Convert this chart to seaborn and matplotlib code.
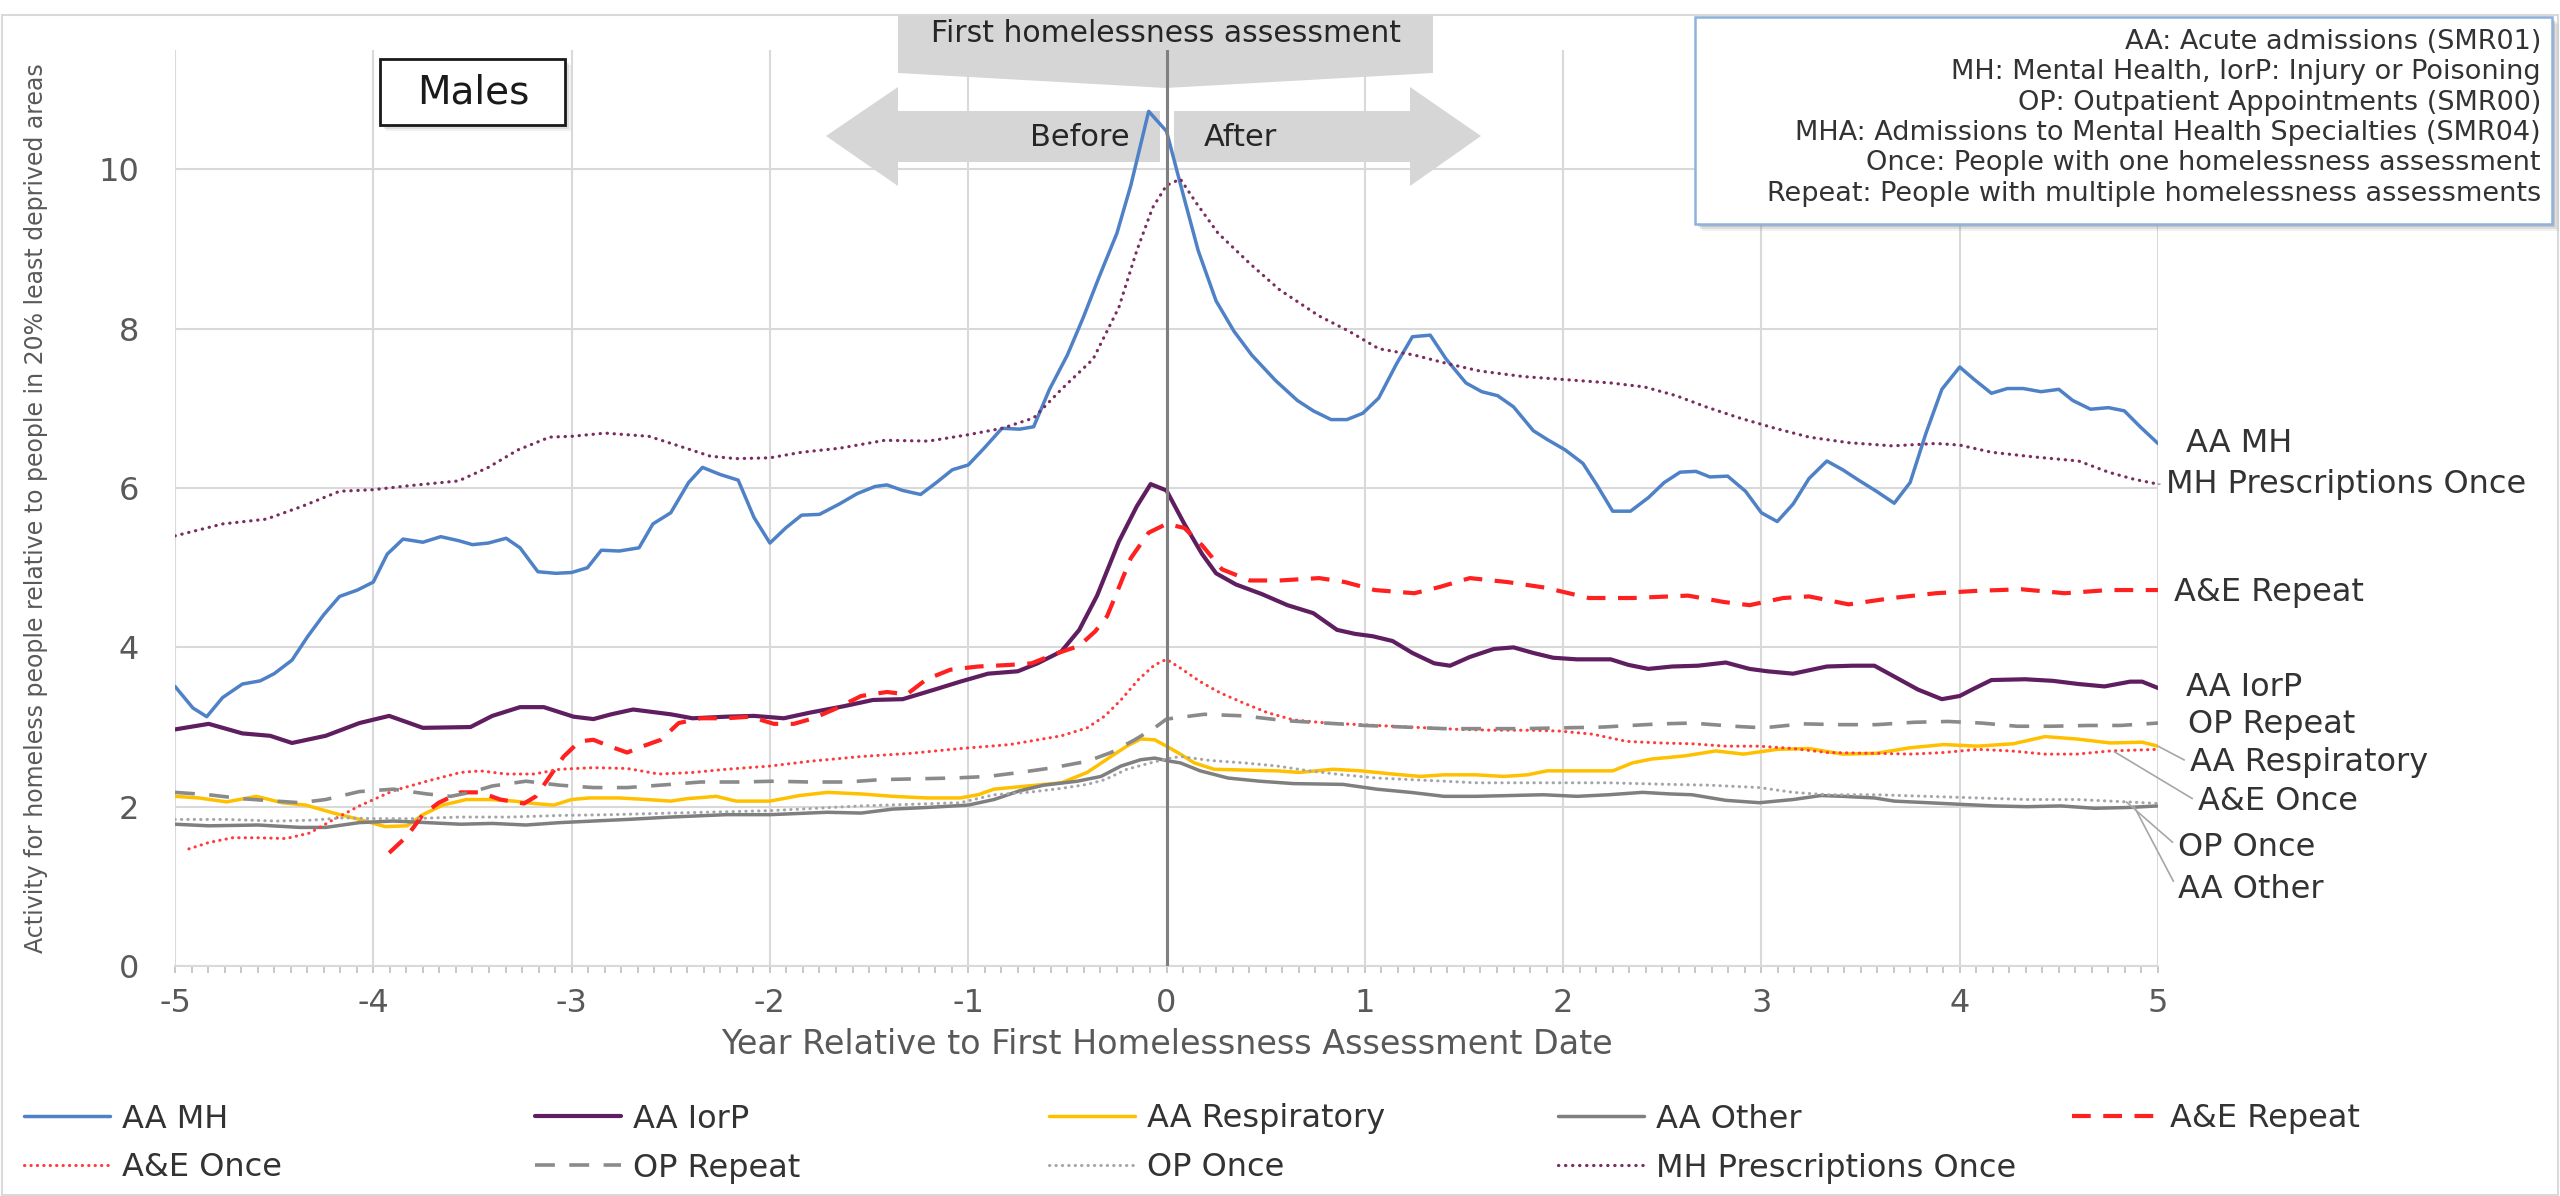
import matplotlib
matplotlib.use("Agg")
import matplotlib.pyplot as plt
from matplotlib.patches import Polygon, Rectangle
from matplotlib.ticker import MultipleLocator
import pandas as pd
import seaborn as sns

# Activity for homeless males relative to people in the 20% least deprived
# areas, by year relative to the first homelessness assessment.
# Each series is a list of (year, ratio) points.

aa_mh = [(-5.00, 3.51), (-4.91, 3.24), (-4.84, 3.13), (-4.76, 3.37), (-4.66, 3.54), (-4.57, 3.58),
         (-4.50, 3.67), (-4.41, 3.84), (-4.33, 4.14), (-4.25, 4.41), (-4.17, 4.64), (-4.08, 4.72),
         (-4.00, 4.82), (-3.93, 5.17), (-3.85, 5.36), (-3.75, 5.32), (-3.66, 5.39), (-3.57, 5.34),
         (-3.50, 5.29), (-3.42, 5.31), (-3.33, 5.37), (-3.26, 5.25), (-3.17, 4.95), (-3.08, 4.93),
         (-3.00, 4.94), (-2.92, 5.00), (-2.85, 5.22), (-2.76, 5.21), (-2.66, 5.25), (-2.59, 5.55),
         (-2.50, 5.69), (-2.41, 6.07), (-2.34, 6.26), (-2.25, 6.17), (-2.16, 6.10), (-2.08, 5.63),
         (-2.00, 5.31), (-1.92, 5.50), (-1.84, 5.66), (-1.75, 5.67), (-1.65, 5.80), (-1.56, 5.93),
         (-1.47, 6.02), (-1.41, 6.04), (-1.33, 5.97), (-1.24, 5.92), (-1.16, 6.07), (-1.08, 6.23),
         (-1.00, 6.29), (-0.92, 6.50), (-0.83, 6.75), (-0.74, 6.74), (-0.67, 6.77), (-0.59, 7.24),
         (-0.50, 7.67), (-0.42, 8.14), (-0.34, 8.65), (-0.25, 9.20), (-0.18, 9.80), (-0.09, 10.73),
         (0.00, 10.48), (0.09, 9.63), (0.16, 8.98), (0.25, 8.35), (0.34, 7.97), (0.43, 7.67),
         (0.55, 7.35), (0.66, 7.10), (0.74, 6.97), (0.83, 6.86), (0.91, 6.86), (0.99, 6.94),
         (1.07, 7.13), (1.16, 7.56), (1.24, 7.90), (1.33, 7.92), (1.41, 7.62), (1.51, 7.32),
         (1.59, 7.21), (1.67, 7.16), (1.75, 7.02), (1.85, 6.72), (1.92, 6.61), (2.01, 6.48),
         (2.10, 6.31), (2.17, 6.04), (2.25, 5.71), (2.34, 5.71), (2.43, 5.88), (2.51, 6.07),
         (2.59, 6.20), (2.67, 6.21), (2.74, 6.14), (2.83, 6.15), (2.92, 5.96), (3.00, 5.69),
         (3.08, 5.58), (3.16, 5.80), (3.24, 6.12), (3.33, 6.34), (3.41, 6.23), (3.49, 6.10),
         (3.58, 5.96), (3.67, 5.81), (3.75, 6.07), (3.83, 6.69), (3.91, 7.24), (4.00, 7.52),
         (4.07, 7.37), (4.16, 7.19), (4.24, 7.25), (4.32, 7.25), (4.41, 7.21), (4.50, 7.24),
         (4.57, 7.10), (4.66, 6.99), (4.75, 7.01), (4.83, 6.97), (4.91, 6.77), (5.00, 6.56)]

aa_iorp = [(-5.00, 2.97), (-4.83, 3.04), (-4.66, 2.92), (-4.52, 2.89), (-4.41, 2.80), (-4.24, 2.89),
           (-4.07, 3.05), (-3.92, 3.14), (-3.75, 2.99), (-3.51, 3.00), (-3.40, 3.14), (-3.26, 3.25),
           (-3.14, 3.25), (-2.99, 3.13), (-2.89, 3.10), (-2.80, 3.16), (-2.69, 3.22), (-2.50, 3.16),
           (-2.39, 3.11), (-2.22, 3.13), (-2.08, 3.14), (-1.93, 3.11), (-1.80, 3.18), (-1.63, 3.26),
           (-1.48, 3.34), (-1.33, 3.35), (-1.17, 3.47), (-1.04, 3.57), (-0.90, 3.67), (-0.75, 3.70),
           (-0.65, 3.80), (-0.53, 3.95), (-0.44, 4.22), (-0.35, 4.65), (-0.24, 5.33), (-0.15, 5.77),
           (-0.08, 6.05), (0.00, 5.97), (0.09, 5.55), (0.18, 5.17), (0.25, 4.93), (0.35, 4.79),
           (0.48, 4.67), (0.61, 4.53), (0.74, 4.43), (0.86, 4.22), (0.95, 4.17), (1.04, 4.14),
           (1.14, 4.08), (1.24, 3.93), (1.35, 3.80), (1.43, 3.77), (1.53, 3.88), (1.65, 3.98),
           (1.75, 4.00), (1.85, 3.93), (1.95, 3.87), (2.07, 3.85), (2.24, 3.85), (2.33, 3.78),
           (2.43, 3.73), (2.55, 3.76), (2.68, 3.77), (2.82, 3.81), (2.94, 3.73), (3.03, 3.70),
           (3.16, 3.67), (3.33, 3.76), (3.46, 3.77), (3.57, 3.77), (3.68, 3.62), (3.79, 3.47),
           (3.91, 3.35), (4.00, 3.39), (4.07, 3.48), (4.16, 3.59), (4.33, 3.60), (4.47, 3.58),
           (4.60, 3.54), (4.73, 3.51), (4.86, 3.57), (4.92, 3.57), (5.00, 3.49)]

aa_respiratory = [(-5.00, 2.13), (-4.88, 2.11), (-4.74, 2.06), (-4.59, 2.13), (-4.46, 2.05), (-4.34, 2.02),
                  (-4.20, 1.92), (-4.07, 1.84), (-3.94, 1.75), (-3.83, 1.76), (-3.75, 1.90), (-3.65, 2.02),
                  (-3.53, 2.09), (-3.41, 2.09), (-3.29, 2.07), (-3.19, 2.04), (-3.09, 2.02), (-3.00, 2.09),
                  (-2.91, 2.11), (-2.76, 2.11), (-2.62, 2.09), (-2.50, 2.07), (-2.42, 2.10), (-2.27, 2.13),
                  (-2.17, 2.07), (-2.00, 2.07), (-1.85, 2.14), (-1.71, 2.18), (-1.54, 2.16), (-1.38, 2.13),
                  (-1.21, 2.11), (-1.04, 2.11), (-0.95, 2.15), (-0.87, 2.22), (-0.70, 2.26), (-0.53, 2.30),
                  (-0.40, 2.43), (-0.28, 2.63), (-0.20, 2.76), (-0.13, 2.85), (-0.06, 2.84), (0.00, 2.76),
                  (0.07, 2.66), (0.14, 2.55), (0.24, 2.47), (0.39, 2.46), (0.56, 2.45), (0.67, 2.43),
                  (0.84, 2.47), (0.98, 2.45), (1.14, 2.41), (1.28, 2.38), (1.40, 2.40), (1.56, 2.40),
                  (1.70, 2.38), (1.82, 2.40), (1.92, 2.45), (2.07, 2.45), (2.25, 2.45), (2.35, 2.55),
                  (2.45, 2.60), (2.54, 2.62), (2.62, 2.64), (2.77, 2.70), (2.91, 2.66), (3.08, 2.72),
                  (3.24, 2.73), (3.41, 2.66), (3.58, 2.67), (3.75, 2.74), (3.92, 2.78), (4.09, 2.76),
                  (4.27, 2.79), (4.43, 2.88), (4.59, 2.85), (4.76, 2.80), (4.92, 2.81), (5.00, 2.76)]

aa_other = [(-5.00, 1.78), (-4.83, 1.76), (-4.58, 1.77), (-4.37, 1.74), (-4.24, 1.74), (-4.07, 1.80),
            (-3.90, 1.82), (-3.73, 1.80), (-3.56, 1.78), (-3.40, 1.79), (-3.23, 1.77), (-3.06, 1.80),
            (-2.89, 1.82), (-2.72, 1.84), (-2.50, 1.87), (-2.22, 1.90), (-2.00, 1.90), (-1.71, 1.93),
            (-1.54, 1.92), (-1.38, 1.97), (-1.21, 1.99), (-1.00, 2.02), (-0.87, 2.09), (-0.74, 2.20),
            (-0.62, 2.27), (-0.45, 2.32), (-0.33, 2.38), (-0.23, 2.51), (-0.13, 2.59), (-0.06, 2.61),
            (0.02, 2.57), (0.07, 2.55), (0.17, 2.45), (0.31, 2.36), (0.47, 2.32), (0.64, 2.29),
            (0.89, 2.28), (1.06, 2.22), (1.23, 2.18), (1.40, 2.13), (1.56, 2.13), (1.73, 2.14),
            (1.90, 2.15), (2.07, 2.13), (2.23, 2.15), (2.40, 2.18), (2.54, 2.16), (2.65, 2.15),
            (2.82, 2.08), (2.99, 2.05), (3.16, 2.09), (3.30, 2.14), (3.41, 2.13), (3.57, 2.11),
            (3.67, 2.07), (3.84, 2.05), (4.00, 2.03), (4.17, 2.01), (4.34, 2.00), (4.51, 2.01),
            (4.68, 1.98), (4.85, 1.99), (5.00, 2.01)]

ae_repeat = [(-3.92, 1.42), (-3.83, 1.63), (-3.75, 1.90), (-3.67, 2.05), (-3.56, 2.18), (-3.46, 2.18),
             (-3.36, 2.09), (-3.24, 2.04), (-3.18, 2.13), (-3.11, 2.38), (-3.04, 2.63), (-2.96, 2.82),
             (-2.89, 2.84), (-2.81, 2.76), (-2.72, 2.68), (-2.64, 2.76), (-2.55, 2.84), (-2.46, 3.05),
             (-2.35, 3.11), (-2.22, 3.11), (-2.10, 3.13), (-1.98, 3.04), (-1.88, 3.04), (-1.78, 3.11),
             (-1.66, 3.24), (-1.54, 3.39), (-1.41, 3.44), (-1.31, 3.41), (-1.21, 3.60), (-1.09, 3.72),
             (-0.95, 3.76), (-0.79, 3.78), (-0.68, 3.80), (-0.57, 3.91), (-0.44, 4.02), (-0.36, 4.20),
             (-0.30, 4.39), (-0.26, 4.63), (-0.18, 5.12), (-0.09, 5.44), (0.00, 5.55), (0.09, 5.50),
             (0.18, 5.28), (0.28, 4.98), (0.42, 4.84), (0.57, 4.84), (0.77, 4.87), (0.90, 4.82),
             (1.05, 4.72), (1.25, 4.68), (1.38, 4.76), (1.53, 4.87), (1.72, 4.82), (1.91, 4.75),
             (2.13, 4.62), (2.35, 4.62), (2.63, 4.65), (2.81, 4.57), (2.94, 4.53), (3.11, 4.62),
             (3.24, 4.64), (3.44, 4.54), (3.66, 4.62), (3.88, 4.68), (4.09, 4.71), (4.31, 4.73),
             (4.53, 4.68), (4.75, 4.72), (5.00, 4.72)]

ae_once = [(-4.93, 1.47), (-4.83, 1.55), (-4.71, 1.61), (-4.58, 1.61), (-4.44, 1.60), (-4.32, 1.67),
           (-4.20, 1.84), (-4.07, 2.01), (-3.90, 2.20), (-3.73, 2.32), (-3.56, 2.43), (-3.46, 2.45),
           (-3.33, 2.41), (-3.19, 2.41), (-3.06, 2.47), (-2.89, 2.49), (-2.72, 2.48), (-2.56, 2.41),
           (-2.39, 2.43), (-2.22, 2.47), (-2.00, 2.51), (-1.80, 2.57), (-1.54, 2.63), (-1.29, 2.67),
           (-1.04, 2.73), (-0.79, 2.78), (-0.53, 2.89), (-0.40, 2.99), (-0.31, 3.14), (-0.23, 3.34),
           (-0.14, 3.60), (-0.06, 3.78), (0.00, 3.85), (0.07, 3.74), (0.17, 3.57), (0.27, 3.43),
           (0.39, 3.30), (0.51, 3.18), (0.64, 3.09), (0.81, 3.05), (0.98, 3.03), (1.14, 3.01),
           (1.31, 2.99), (1.48, 2.97), (1.65, 2.96), (1.82, 2.96), (1.98, 2.95), (2.15, 2.91),
           (2.32, 2.82), (2.49, 2.80), (2.65, 2.79), (2.82, 2.76), (2.99, 2.76), (3.16, 2.73),
           (3.33, 2.68), (3.58, 2.67), (3.75, 2.66), (3.92, 2.68), (4.09, 2.72), (4.26, 2.70),
           (4.43, 2.66), (4.59, 2.66), (4.76, 2.70), (5.00, 2.72)]

op_repeat = [(-5.00, 2.18), (-4.83, 2.15), (-4.66, 2.10), (-4.49, 2.07), (-4.37, 2.05), (-4.24, 2.09),
             (-4.07, 2.19), (-3.90, 2.22), (-3.73, 2.16), (-3.61, 2.13), (-3.51, 2.18), (-3.40, 2.26),
             (-3.23, 2.32), (-3.06, 2.27), (-2.89, 2.24), (-2.72, 2.24), (-2.50, 2.28), (-2.35, 2.31),
             (-2.15, 2.31), (-1.98, 2.32), (-1.80, 2.31), (-1.61, 2.31), (-1.44, 2.34), (-1.26, 2.35),
             (-1.07, 2.36), (-0.90, 2.38), (-0.74, 2.43), (-0.57, 2.49), (-0.40, 2.57), (-0.28, 2.68),
             (-0.16, 2.84), (-0.06, 2.99), (0.00, 3.10), (0.19, 3.16), (0.39, 3.14), (0.60, 3.08),
             (0.80, 3.05), (1.00, 3.02), (1.20, 3.00), (1.40, 2.98), (1.80, 2.98), (2.20, 3.00),
             (2.49, 3.04), (2.65, 3.05), (2.86, 3.01), (3.01, 2.99), (3.21, 3.04), (3.40, 3.03),
             (3.58, 3.03), (3.77, 3.06), (3.94, 3.07), (4.11, 3.05), (4.29, 3.01), (4.46, 3.01),
             (4.65, 3.02), (4.81, 3.02), (5.00, 3.05)]

op_once = [(-5.00, 1.84), (-4.74, 1.84), (-4.49, 1.82), (-4.32, 1.83), (-4.15, 1.86), (-3.99, 1.85),
           (-3.81, 1.85), (-3.56, 1.87), (-3.31, 1.87), (-3.06, 1.89), (-2.80, 1.90), (-2.50, 1.92),
           (-2.00, 1.95), (-1.54, 2.01), (-1.04, 2.05), (-0.87, 2.15), (-0.70, 2.18), (-0.53, 2.23),
           (-0.40, 2.28), (-0.31, 2.34), (-0.20, 2.47), (-0.08, 2.55), (0.00, 2.60), (0.07, 2.63),
           (0.22, 2.58), (0.39, 2.55), (0.56, 2.51), (0.72, 2.45), (0.89, 2.40), (1.06, 2.36),
           (1.23, 2.34), (1.40, 2.32), (1.56, 2.30), (1.90, 2.30), (2.23, 2.30), (2.54, 2.28),
           (2.74, 2.27), (2.99, 2.24), (3.16, 2.18), (3.33, 2.15), (3.58, 2.15), (3.84, 2.13),
           (4.09, 2.11), (4.34, 2.09), (4.59, 2.09), (4.85, 2.06), (5.00, 2.04)]

mh_prescriptions_once = [(-5.00, 5.40), (-4.76, 5.55), (-4.54, 5.61), (-4.36, 5.77), (-4.17, 5.96),
                         (-4.00, 5.98), (-3.82, 6.03), (-3.57, 6.09), (-3.42, 6.26), (-3.27, 6.48),
                         (-3.11, 6.64), (-3.00, 6.65), (-2.83, 6.69), (-2.61, 6.65), (-2.46, 6.53),
                         (-2.30, 6.40), (-2.17, 6.37), (-2.00, 6.38), (-1.84, 6.45), (-1.65, 6.50),
                         (-1.42, 6.60), (-1.20, 6.59), (-1.00, 6.67), (-0.83, 6.75), (-0.67, 6.88),
                         (-0.53, 7.24), (-0.37, 7.62), (-0.24, 8.27), (-0.15, 8.98), (-0.07, 9.52),
                         (0.00, 9.80), (0.07, 9.88), (0.15, 9.58), (0.26, 9.20), (0.42, 8.82),
                         (0.57, 8.49), (0.77, 8.16), (0.92, 7.97), (1.07, 7.75), (1.25, 7.67),
                         (1.42, 7.56), (1.58, 7.47), (1.80, 7.40), (2.02, 7.36), (2.24, 7.32),
                         (2.41, 7.27), (2.57, 7.16), (2.72, 7.02), (2.89, 6.88), (3.07, 6.75),
                         (3.24, 6.64), (3.44, 6.57), (3.66, 6.53), (3.88, 6.56), (4.00, 6.54),
                         (4.16, 6.45), (4.38, 6.39), (4.60, 6.34), (4.75, 6.20), (4.88, 6.11),
                         (5.00, 6.05)]

series_names = ["AA MH", "AA IorP", "AA Respiratory", "AA Other", "A&E Repeat",
                "A&E Once", "OP Repeat", "OP Once", "MH Prescriptions Once"]
series_points = [aa_mh, aa_iorp, aa_respiratory, aa_other, ae_repeat,
                 ae_once, op_repeat, op_once, mh_prescriptions_once]

x_ticks = [-5, -4, -3, -2, -1, 0, 1, 2, 3, 4, 5]
y_ticks = [0, 2, 4, 6, 8, 10]

key_lines = ["AA: Acute admissions (SMR01)",
             "MH: Mental Health, IorP: Injury or Poisoning",
             "OP: Outpatient Appointments (SMR00)",
             "MHA: Admissions to Mental Health Specialties (SMR04)",
             "Once: People with one homelessness assessment",
             "Repeat: People with multiple homelessness assessments"]

# ---- styles ----
styles = {
    "AA MH": dict(color="#4F81C7", linewidth=2.5, linestyle="-"),
    "AA IorP": dict(color="#5F1E5F", linewidth=3.0, linestyle="-"),
    "AA Respiratory": dict(color="#FFC000", linewidth=2.5, linestyle="-"),
    "AA Other": dict(color="#7F7F7F", linewidth=2.5, linestyle="-"),
    "A&E Repeat": dict(color="#FF2020", linewidth=3.0, linestyle=(0, (4.5, 3.0))),
    "A&E Once": dict(color="#FF3B3B", linewidth=2.2, linestyle=(0, (0.1, 2.0)),
                     dash_capstyle="round"),
    "OP Repeat": dict(color="#8A8A8A", linewidth=2.6, linestyle=(0, (5.5, 4.0))),
    "OP Once": dict(color="#A2A6AC", linewidth=2.2, linestyle=(0, (0.1, 2.0)),
                    dash_capstyle="round"),
    "MH Prescriptions Once": dict(color="#7A2D5E", linewidth=2.3, linestyle=(0, (0.1, 2.1)),
                                  dash_capstyle="round"),
}

sns.set_theme(style="white")
plt.rcParams["font.family"] = ["DejaVu Sans"]
plt.rcParams["axes.unicode_minus"] = False

W, H = 2560, 1196
TEXT = "#333333"
AXTEXT = "#595959"
GRID = "#D9D9D9"
LABEL_SIZE = 23


def fx(x):
    return x / W


def fy(y):
    return 1 - y / H


fig = plt.figure(figsize=(W / 100, H / 100), dpi=100)
fig.patch.set_facecolor("white")
ax = fig.add_axes([fx(175), fy(966), (2158 - 175) / W, (966 - 50) / H])

handles = {}
for name, pts in zip(series_names, series_points):
    df = pd.DataFrame(pts, columns=["year", "ratio"])
    sns.lineplot(data=df, x="year", y="ratio", ax=ax, estimator=None, sort=False,
                 legend=False, zorder=3, **styles[name])
    handles[name] = ax.lines[-1]

# axes, grid and ticks
ax.set_xlim(-5, 5)
ax.set_ylim(0, 11.5)
ax.set_xticks(x_ticks)
ax.set_yticks(y_ticks)
ax.xaxis.set_minor_locator(MultipleLocator(1 / 12))
ax.set_axisbelow(True)
ax.grid(True, which="major", color=GRID, linewidth=1.5)
for side in ["left", "right", "top"]:
    ax.spines[side].set_visible(False)
ax.spines["bottom"].set_color(GRID)
ax.spines["bottom"].set_linewidth(1.5)
ax.tick_params(axis="x", which="both", direction="out", length=5, width=1.2,
               color="#BFBFBF", labelsize=23, labelcolor=AXTEXT, pad=11, bottom=True)
ax.tick_params(axis="y", length=0, labelsize=23, labelcolor=AXTEXT, pad=26)

ax.set_xlabel("Year Relative to First Homelessness Assessment Date",
              fontsize=24, color=AXTEXT)
ax.xaxis.label.set_va("center")
ax.xaxis.set_label_coords(0.5, -(1045 - 966) / 916)
ax.set_ylabel("Activity for homeless people relative to people in 20% least deprived areas",
              fontsize=17, color=AXTEXT)
ax.yaxis.label.set_va("center")
ax.yaxis.set_label_coords((36 - 175) / 1983, 0.5)

# assessment date marker
ax.axvline(0, color="#7F7F7F", linewidth=2.2, zorder=4)

# header callout and before/after arrows
shape_kw = dict(closed=True, transform=fig.transFigure, clip_on=False,
                facecolor="#D6D6D6", edgecolor="none", zorder=1)
header = [(898, 15), (1433, 15), (1433, 73), (1166, 88), (898, 73)]
left_arrow = [(826, 136), (898, 87), (898, 111), (1160, 111), (1160, 162), (898, 162), (898, 186)]
right_arrow = [(1174, 111), (1410, 111), (1410, 87), (1481, 136), (1410, 186), (1410, 162), (1174, 162)]
for shape in (header, left_arrow, right_arrow):
    ax.add_patch(Polygon([(fx(a), fy(b)) for a, b in shape], **shape_kw))

fig.text(fx(1166), fy(34), "First homelessness assessment", ha="center", va="center",
         fontsize=21.5, color="#262626", zorder=5)
fig.text(fx(1080), fy(137), "Before", ha="center", va="center", fontsize=22,
         color="#262626", zorder=5)
fig.text(fx(1240), fy(137), "After", ha="center", va="center", fontsize=22,
         color="#262626", zorder=5)


def framed_box(x0, y0, x1, y1, edge, lw, shadow=5):
    for k, a in ((shadow + 2, 0.10), (shadow, 0.18), (shadow - 2, 0.25)):
        fig.add_artist(Rectangle((fx(x0 + k), fy(y1 + k)), (x1 - x0) / W, (y1 - y0) / H,
                                 transform=fig.transFigure, facecolor="#808080",
                                 edgecolor="none", alpha=a, zorder=4))
    fig.add_artist(Rectangle((fx(x0), fy(y1)), (x1 - x0) / W, (y1 - y0) / H,
                             transform=fig.transFigure, facecolor="white",
                             edgecolor=edge, linewidth=lw, zorder=4.5))


# "Males" panel tag
framed_box(380, 59, 565, 125, "#1A1A1A", 2.0, shadow=4)
fig.text(fx(473), fy(92), "Males", ha="center", va="center", fontsize=28,
         color="#1A1A1A", zorder=6)

# abbreviation key
framed_box(1695, 17, 2552, 224, "#8FB1DA", 1.8, shadow=5)
for line, yy in zip(key_lines, [42, 72, 103, 133, 163, 194]):
    fig.text(fx(2541), fy(yy), line, ha="right", va="center", fontsize=19.5,
             color=TEXT, zorder=6)

# series end labels
end_labels = {
    "AA MH": ((2186, 444), None),
    "MH Prescriptions Once": ((2166, 484), (5.0, 6.05)),
    "A&E Repeat": ((2174, 593), None),
    "AA IorP": ((2186, 688), None),
    "OP Repeat": ((2188, 725), None),
    "AA Respiratory": ((2190, 763), (5.0, 2.76)),
    "A&E Once": ((2198, 802), (4.78, 2.69)),
    "OP Once": ((2178, 847), (4.84, 2.06)),
    "AA Other": ((2178, 890), (4.88, 2.00)),
}
for name, ((tx, ty), anchor) in end_labels.items():
    if anchor is None:
        fig.text(fx(tx), fy(ty), name, ha="left", va="center", fontsize=LABEL_SIZE,
                 color=TEXT, zorder=6)
    else:
        ax.annotate(name, xy=anchor, xycoords="data", xytext=(fx(tx), fy(ty)),
                    textcoords="figure fraction", ha="left", va="center",
                    fontsize=LABEL_SIZE, color=TEXT, annotation_clip=False, zorder=6,
                    arrowprops=dict(arrowstyle="-", color="#A6A6A6", lw=1.2,
                                    shrinkA=2, shrinkB=0, relpos=(0, 0.5)))

# bottom legend, two rows of five columns
col_x = [24, 535, 1049, 1558, 2072]
row_y = [1119, 1168]
legend_rows = [["AA MH", "AA IorP", "AA Respiratory", "AA Other", "A&E Repeat"],
               ["A&E Once", "OP Repeat", "OP Once", "MH Prescriptions Once"]]
for r, row in enumerate(legend_rows):
    for c, name in enumerate(row):
        leg = fig.legend(handles=[handles[name]], labels=[name], loc="center left",
                         bbox_to_anchor=(fx(col_x[c]), fy(row_y[r])), frameon=False,
                         borderpad=0, borderaxespad=0, handlelength=2.7,
                         handletextpad=0.38, fontsize=LABEL_SIZE)
        for t in leg.get_texts():
            t.set_color(TEXT)

# outer chart border
fig.add_artist(Rectangle((fx(2), fy(1195)), 2556 / W, 1180 / H, transform=fig.transFigure,
                         fill=False, edgecolor=GRID, linewidth=1.5, zorder=0.5))

fig.savefig("out.png", dpi=100, facecolor="white")
